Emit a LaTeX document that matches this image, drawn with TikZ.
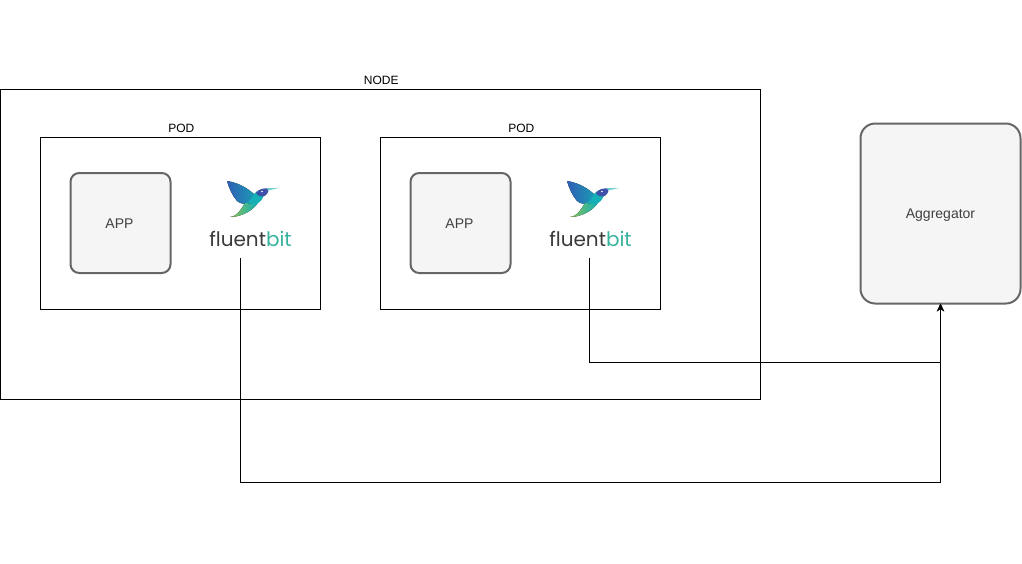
\documentclass[tikz,border=0pt]{standalone}
\usepackage{fontspec}
\setmainfont{Liberation Sans}
\newfontfamily\logofont{Poppins}
\definecolor{boxgray}{HTML}{666666}
\definecolor{boxfill}{HTML}{F5F5F5}
\definecolor{labelgray}{HTML}{404040}
\definecolor{logodark}{HTML}{3A3A3A}
\definecolor{logoteal}{HTML}{36B39C}
\definecolor{birdblue}{HTML}{2F5FB5}
\definecolor{birdteal}{HTML}{14B0B5}
\definecolor{birdgreen}{HTML}{8CC152}
\definecolor{birdindigo}{HTML}{3F4FA8}
\usetikzlibrary{positioning, arrows.meta}
\begin{document}
\begin{tikzpicture}[
	x=0.75pt, y=-0.75pt,
	frame/.style={rectangle, draw=black, line width=0.75pt, outer sep=0pt, inner sep=0pt},
	appbox/.style={rectangle, rounded corners=6.5pt, draw=boxgray, fill=boxfill, line width=1.5pt, outer sep=0pt, inner sep=0pt, text=labelgray, font=\fontsize{10.5}{12}\selectfont},
	caption/.style={font=\fontsize{9}{11}\selectfont, inner sep=0pt, xshift=0.6pt, yshift=2.9pt},
	wire/.style={draw=black, line width=0.75pt},
	logotext/.style={font=\logofont\fontsize{15}{18}\selectfont, inner sep=0pt, text=logodark},
	fluentbird/.pic={
		\fill[left color=birdblue, right color=birdteal!80!birdblue] (-23,-19) .. controls (-10,-17) and (-2,-11) .. (4,-6) -- (7,4) .. controls (-3,5) and (-10,4) .. (-13,1) .. controls (-18,-5) and (-21,-12) .. cycle;
		\fill[left color=birdgreen, right color=birdteal] (-20,17) .. controls (-12,16) and (-9,9) .. (-5,3) -- (7,4) .. controls (3,10) and (-8,17) .. cycle;
		\fill[birdteal] (4,-6) -- (7,-9) .. controls (9,-5) and (12,-4) .. (13.5,-3.5) .. controls (12,0) and (10,2) .. (7,4) .. controls (5,4) and (1,4) .. (-3,3) .. controls (0,1) and (3,-3) .. cycle;
		\fill[birdindigo] (6,-7) .. controls (8,-11) and (14,-12) .. (18,-11.5) .. controls (20,-9) and (16,-4) .. (13.5,-3.5) .. controls (11,-3) and (8,-4) .. cycle;
		\fill[birdteal!60] (17,-12) -- (29,-12) -- (18,-9.5) -- cycle;
		\fill[white] (12,-8.5) circle (0.8);
	}
]
	\useasboundingbox (0,0) rectangle (1022,564);

	% outer frame and pods
	\node[frame, minimum width=570pt, minimum height=232.5pt, label={[caption]above:NODE}] (nodeframe) at (380.5,244) {};
	\node[frame, minimum width=210pt, minimum height=129pt, label={[caption]above:POD}] (podone) at (180.5,223) {};
	\node[frame, minimum width=210pt, minimum height=129pt, label={[caption]above:POD}] (podtwo) at (520.5,223) {};

	\node[appbox, minimum width=75pt, minimum height=75pt] (appone) at (120.5,223) {\kern-1.5pt\raisebox{-3.75pt}[0pt][0pt]{APP}};
	\node[appbox, minimum width=75pt, minimum height=75pt] (apptwo) at (460.5,223) {\kern-1.5pt\raisebox{-3.75pt}[0pt][0pt]{APP}};
	\node[appbox, rounded corners=11pt, minimum width=120pt, minimum height=135pt] (aggregator) at (940.5,213.5) {\raisebox{-3.75pt}[0pt][0pt]{Aggregator}};

	% logos
	\pic at (250,200) {fluentbird};
	\pic at (590,200) {fluentbird};
	\node[logotext] (logoone) at (250.5,239) {fluent\textcolor{logoteal}{bit}};
	\node[logotext] (logotwo) at (590.5,239) {fluent\textcolor{logoteal}{bit}};
	\coordinate (tapone) at (240.5,258);
	\coordinate (taptwo) at (589.5,258);

	% connectors
	\draw[wire, -{Stealth[length=6pt, width=5.5pt]}] (tapone) |- (940.5,482) -- (aggregator.south);
	\draw[wire, -{Stealth[length=6pt, width=5.5pt]}] (taptwo) |- (940.5,362.5) -- (aggregator.south);
\end{tikzpicture}
\end{document}
